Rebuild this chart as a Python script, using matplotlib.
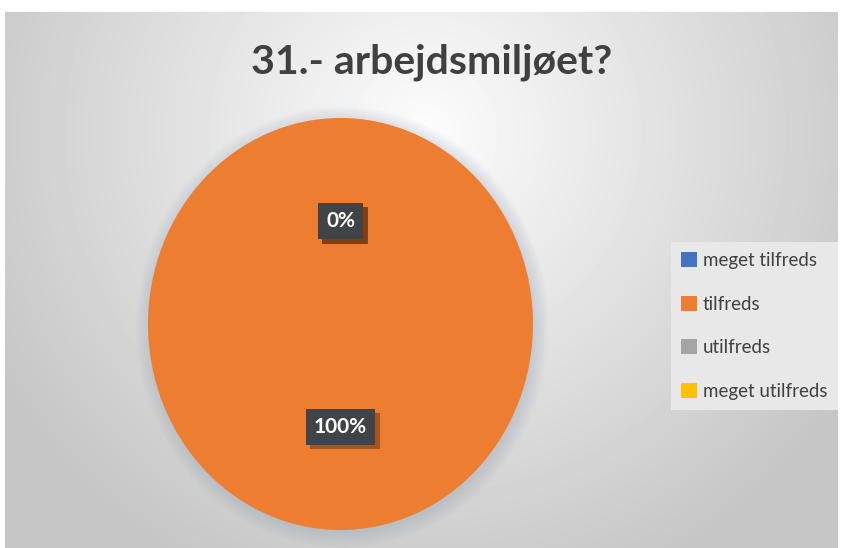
import matplotlib
matplotlib.use("Agg")
import matplotlib.pyplot as plt
import matplotlib.patheffects as pe
from matplotlib.patches import Ellipse
import numpy as np

# survey answers
categories = ["meget tilfreds", "tilfreds", "utilfreds", "meget utilfreds"]
values = [0, 100, 0, 0]
colors = ["#4472C4", "#ED7D31", "#A5A5A5", "#FFC000"]
title = "31.- arbejdsmiljøet?"

W, H = 844, 548
fig = plt.figure(figsize=(W / 100, H / 100), dpi=100)
fig.patch.set_facecolor("white")

# chart area with a radial grey gradient
bg = fig.add_axes([5 / W, 0, 833 / W, 536 / H])
yy, xx = np.mgrid[0:536, 0:833]
d = np.sqrt(((xx - 420) / 560.0) ** 2 + ((yy - 120) / 560.0) ** 2)
shade = np.clip(252 - 62 * d, 198, 252) / 255.0
bg.imshow(shade, cmap="gray", vmin=0, vmax=1, aspect="auto", interpolation="bilinear")
bg.axis("off")

# pie
ax = fig.add_axes([148 / W, 18 / H, 385 / W, 412 / H])
for k in range(8):
    ax.add_patch(Ellipse((0.01, -0.015), 2 + 0.02 * k, 2 + 0.02 * k, clip_on=False,
                         facecolor="#8a98ae", edgecolor="none", alpha=0.04, zorder=0))
wedges, texts, autotexts = ax.pie(values, colors=colors, startangle=90, counterclock=False,
                                  autopct="%1.0f%%", pctdistance=0.5,
                                  textprops=dict(color="white", fontsize=15, fontweight="bold",
                                                 family="Lato"))
for w in wedges:
    w.set_zorder(2)
for t in autotexts:
    t.set_zorder(5)
    t.set_bbox(dict(boxstyle="square,pad=0.4", facecolor="#404348", edgecolor="none"))
    t.get_bbox_patch().set_path_effects([pe.SimplePatchShadow(offset=(3, -3), shadow_rgbFace="#7a3a10", alpha=0.6),
                                         pe.Normal()])
ax.set_aspect("auto")
ax.set_xlim(-1, 1)
ax.set_ylim(-1, 1)
ax.axis("off")

fig.text(432 / W, 1 - 62 / H, title, ha="center", va="center", fontsize=29.5,
         fontweight="bold", family="Lato", color="#404040")

leg = fig.legend(wedges, categories, loc="center left", bbox_to_anchor=(671 / W, 1 - 326 / H),
                 borderaxespad=0, frameon=True, fancybox=False,
                 prop=dict(family="Lato", size=13.5), labelcolor="#404040",
                 handlelength=0.85, handleheight=0.85, handletextpad=0.3, labelspacing=1.42,
                 borderpad=0.55)
leg.get_frame().set_facecolor("#e8e8e8")
leg.get_frame().set_edgecolor("none")
leg.get_frame().set_alpha(1)

fig.savefig("out.png", dpi=100)
